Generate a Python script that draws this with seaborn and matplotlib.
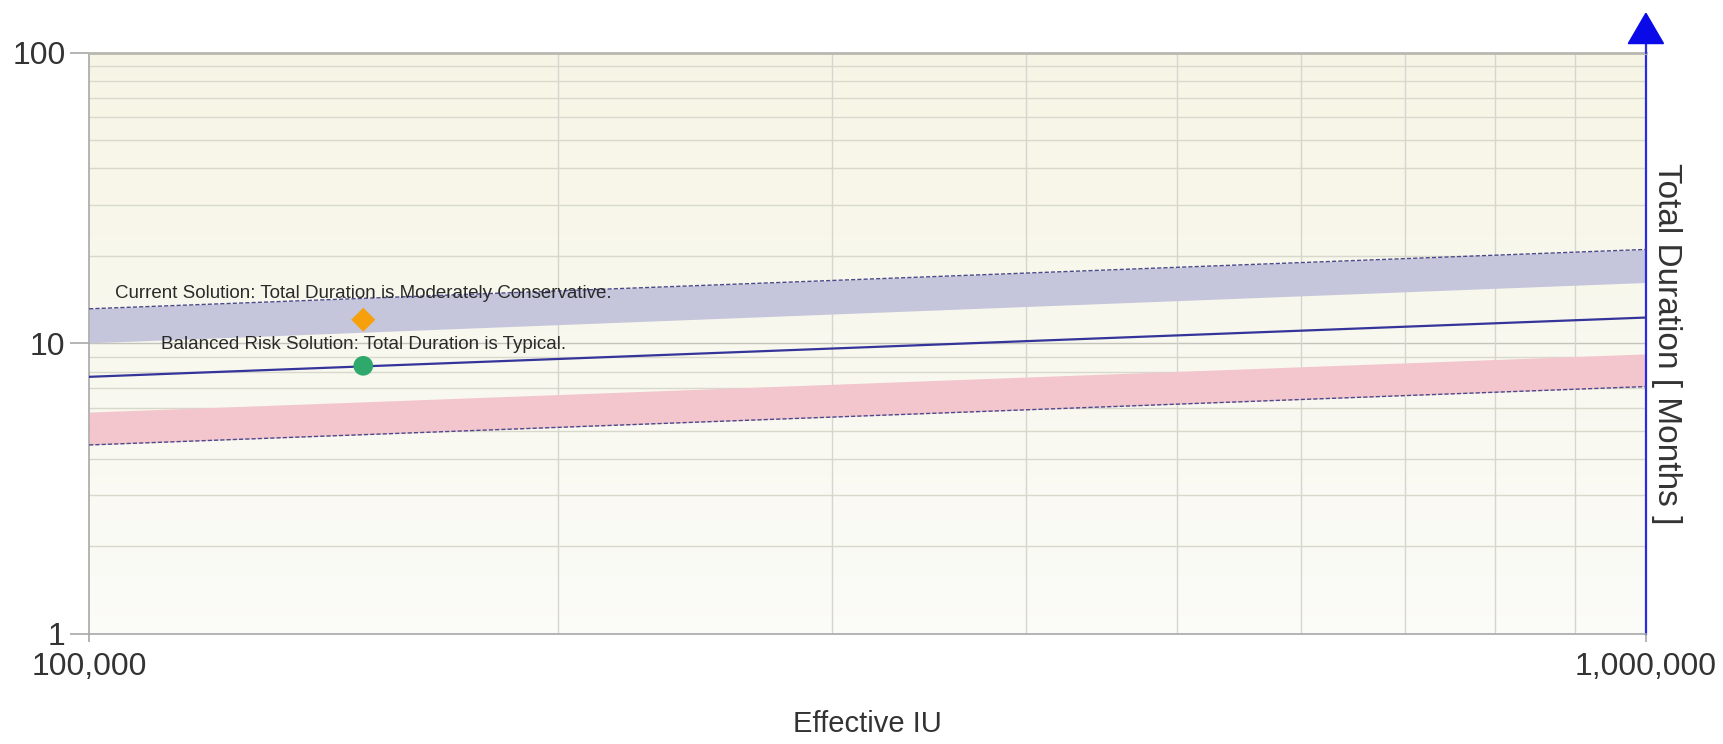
import numpy as np
import pandas as pd
import seaborn as sns
import matplotlib.pyplot as plt
from matplotlib.patches import Polygon
from matplotlib.ticker import FixedLocator, FixedFormatter, NullFormatter

sns.set_theme(style="white")
plt.rcParams['font.family'] = ['Liberation Sans', 'DejaVu Sans']

# Reference curves (values at both ends of the Effective IU range)
effective_iu = [100000, 1000000]
trend_typical = [7.67, 12.27]
conservative_upper = [13.15, 21.05]
conservative_lower = [10.04, 16.2]
aggressive_upper = [5.8, 9.2]
aggressive_lower = [4.47, 7.1]

# Solutions plotted on the chart
solution_labels = [
    "Current Solution: Total Duration is Moderately Conservative.",
    "Balanced Risk Solution: Total Duration is Typical.",
]
solution_iu = [150000, 150000]
solution_months = [12.06, 8.37]
solution_markers = ["D", "o"]
solution_colors = ["#f5a00c", "#2fa86b"]
label_offsets = [19, 15]

y_ticks = [1, 10, 100]
y_ticklabels = ["1", "10", "100"]
x_ticks = [100000, 1000000]
x_ticklabels = ["100,000", "1,000,000"]

curves = pd.DataFrame({
    "iu": effective_iu,
    "typical": trend_typical,
    "cons_hi": conservative_upper,
    "cons_lo": conservative_lower,
    "aggr_hi": aggressive_upper,
    "aggr_lo": aggressive_lower,
})

fig = plt.figure(figsize=(17.24, 7.44), dpi=100)
ax = fig.add_axes([0.0517, 0.148, 0.903, 0.781])
ax.set_xscale("log")
ax.set_yscale("log")
ax.set_xlim(100000, 1000000)
ax.set_ylim(1, 100)

# soft vertical background gradient
grad = np.linspace(0, 1, 256).reshape(-1, 1)
top_c = np.array([0.968, 0.961, 0.898])
bot_c = np.array([0.985, 0.985, 0.972])
img = top_c * (1 - grad[..., None]) + bot_c * grad[..., None]
img = img.reshape(256, 1, 3)
ax.imshow(img, extent=[0, 1, 0, 1], transform=ax.transAxes, aspect="auto",
          zorder=0, interpolation="bilinear")

# grid
minor_y = [2, 3, 4, 5, 6, 7, 8, 9, 20, 30, 40, 50, 60, 70, 80, 90]
minor_x = [200000, 300000, 400000, 500000, 600000, 700000, 800000, 900000]
for v in minor_y:
    ax.axhline(v, color="#d8d8cc", lw=1.0, zorder=1)
ax.axhline(10, color="#c4c4bc", lw=1.0, zorder=1)
for v in minor_x:
    ax.axvline(v, color="#d6d6d0", lw=1.0, zorder=1)

# bands
ax.fill_between(curves["iu"], curves["cons_lo"], curves["cons_hi"],
                color="#c5c6dc", lw=0, zorder=2)
ax.fill_between(curves["iu"], curves["aggr_lo"], curves["aggr_hi"],
                color="#f2c6cc", lw=0, zorder=2)

sns.lineplot(data=curves, x="iu", y="cons_hi", ax=ax, color="#4a4a8c",
             lw=1.0, linestyle=(0, (3, 1.5)), zorder=3)
sns.lineplot(data=curves, x="iu", y="aggr_lo", ax=ax, color="#4a4a8c",
             lw=1.0, linestyle=(0, (3, 1.5)), zorder=3)
sns.lineplot(data=curves, x="iu", y="typical", ax=ax, color="#34349a",
             lw=1.6, zorder=3)

# solution markers and labels
for lab, xv, yv, mk, col, off in zip(solution_labels, solution_iu, solution_months,
                                     solution_markers, solution_colors, label_offsets):
    sns.scatterplot(x=[xv], y=[yv], ax=ax, marker=mk, color=col, s=200 if mk == "o" else 150,
                    edgecolor="none", zorder=5)
    ax.annotate(lab, (xv, yv), xytext=(0, off), textcoords="offset points",
                ha="center", va="center", fontsize=13.5, color="#2a2a2a", zorder=6)

# ticks
ax.yaxis.set_major_locator(FixedLocator(y_ticks))
ax.yaxis.set_major_formatter(FixedFormatter(y_ticklabels))
ax.yaxis.set_minor_locator(FixedLocator([]))
ax.yaxis.set_minor_formatter(NullFormatter())
ax.xaxis.set_major_locator(FixedLocator(x_ticks))
ax.xaxis.set_major_formatter(FixedFormatter(x_ticklabels))
ax.xaxis.set_minor_locator(FixedLocator([]))
ax.xaxis.set_minor_formatter(NullFormatter())
ax.tick_params(axis="y", which="major", left=True, length=14, width=1.2,
               color="#a8a8a8", pad=3, labelsize=23, labelcolor="#333333")
ax.tick_params(axis="x", which="major", bottom=True, length=6, width=1.2,
               color="#a8a8a8", pad=7, labelsize=23, labelcolor="#333333")

for side in ["left", "bottom"]:
    ax.spines[side].set_color("#a8a8a8")
    ax.spines[side].set_linewidth(1.2)
ax.spines["top"].set_color("#b8b8b0")
ax.spines["top"].set_linewidth(2.0)
ax.spines["right"].set_color("#2a2ae0")
ax.spines["right"].set_linewidth(1.6)

# axis arrow on the right
ax.plot([1, 1], [1, 1.016], transform=ax.transAxes, color="#2a2ae0", lw=1.6,
        clip_on=False, zorder=6)
arrow = Polygon([[1 - 0.0113, 1.016], [1 + 0.0113, 1.016], [1, 1.068]],
                closed=True, transform=ax.transAxes, color="#0a0ae8",
                clip_on=False, zorder=7)
ax.add_patch(arrow)

ax.set_xlabel("Effective IU", fontsize=21, color="#333333", labelpad=20)
ax.yaxis.set_label_position("right")
ax.set_ylabel("Total Duration [ Months ]", fontsize=24, color="#333333",
              rotation=-90, labelpad=26)

fig.savefig("out.png", dpi=100)
